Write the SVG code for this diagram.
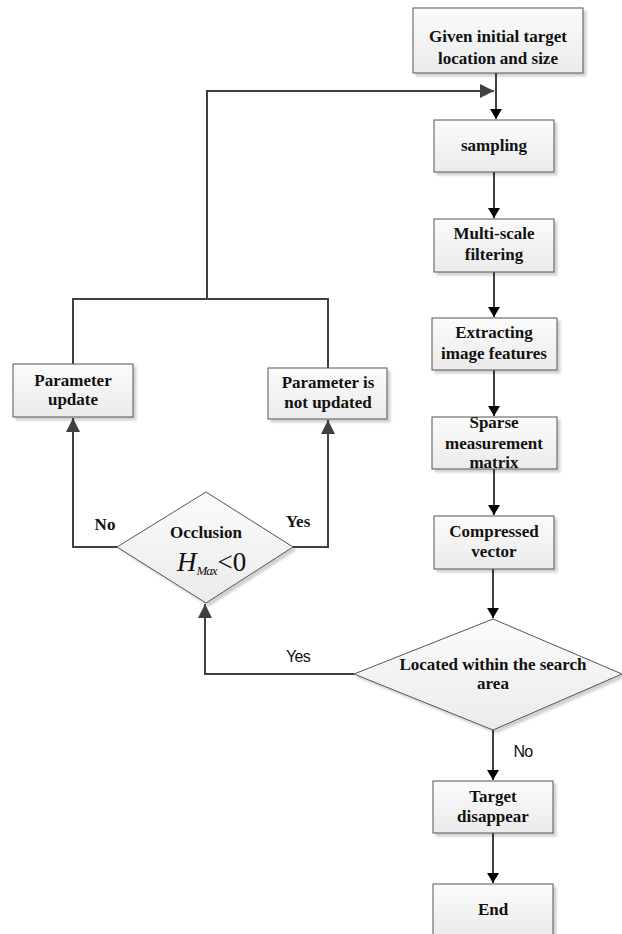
<svg xmlns="http://www.w3.org/2000/svg" width="622" height="934" viewBox="0 0 622 934">
<defs>
<linearGradient id="g" x1="0" y1="0" x2="0" y2="1">
<stop offset="0" stop-color="#fbfbfb"/>
<stop offset="1" stop-color="#ebebeb"/>
</linearGradient>
<filter id="sh" x="-10%" y="-10%" width="130%" height="130%">
<feDropShadow dx="3" dy="3" stdDeviation="1" flood-color="#000" flood-opacity="0.18"/>
</filter>
<marker id="ab" markerWidth="10" markerHeight="12" refX="10" refY="6" orient="auto" markerUnits="userSpaceOnUse">
<path d="M0,0 L10,6 L0,12 Z" fill="#000"/>
</marker>
<marker id="ag" markerWidth="14" markerHeight="14" refX="14" refY="7" orient="auto" markerUnits="userSpaceOnUse">
<path d="M0,0 L14,7 L0,14 Z" fill="#404040"/>
</marker>
</defs>
<style>
.box{fill:url(#g);stroke:#555;stroke-width:1;filter:url(#sh)}
.t{font-family:"Liberation Serif","Times New Roman",serif;font-weight:bold;font-size:17px;fill:#111;text-anchor:middle}
.s{font-family:"Liberation Sans",Arial,sans-serif;font-size:16px;fill:#111;text-anchor:middle;letter-spacing:-0.7px}
.cb{fill:none;stroke:#000;stroke-width:1.5}
.cg{fill:none;stroke:#404040;stroke-width:2}
</style>
<g id="connectors">
<path class="cb" d="M496,73 V119" marker-end="url(#ab)"/>
<path class="cg" d="M207,299 V91 H494" marker-end="url(#ag)"/>
<path class="cg" d="M73,364 V299 H328 V368"/>
<path class="cb" d="M494,172 V218" marker-end="url(#ab)"/>
<path class="cb" d="M494,272 V317" marker-end="url(#ab)"/>
<path class="cb" d="M494,370 V416" marker-end="url(#ab)"/>
<path class="cb" d="M494,469 V515" marker-end="url(#ab)"/>
<path class="cb" d="M493,569 V618" marker-end="url(#ab)"/>
<path class="cg" d="M354,674 H205 V604" marker-end="url(#ag)"/>
<path class="cg" d="M117,547 H73 V418" marker-end="url(#ag)"/>
<path class="cg" d="M293,547 H328 V420" marker-end="url(#ag)"/>
<path class="cb" d="M493,730 V780" marker-end="url(#ab)"/>
<path class="cb" d="M493,833 V883" marker-end="url(#ab)"/>
<text class="s" x="298" y="662">Yes</text>
<text class="s" x="523" y="757">No</text>
<text class="t" x="105" y="530">No</text>
<text class="t" x="298" y="527">Yes</text>
</g>
<g id="n1"><rect class="box" x="413" y="8" width="170" height="65"/>
<text class="t" x="498" y="42">Given initial target</text><text class="t" x="498" y="64">location and size</text></g>
<g id="n2"><rect class="box" x="434" y="120" width="120" height="52"/>
<text class="t" x="494" y="151">sampling</text></g>
<g id="n3"><rect class="box" x="434" y="219" width="120" height="53"/>
<text class="t" x="494" y="239">Multi-scale</text><text class="t" x="494" y="260">filtering</text></g>
<g id="n4"><rect class="box" x="432" y="318" width="125" height="52"/>
<text class="t" x="494" y="338">Extracting</text><text class="t" x="494" y="359">image features</text></g>
<g id="n5"><rect class="box" x="432" y="417" width="125" height="52"/>
<text class="t" x="494" y="428">Sparse</text><text class="t" x="494" y="449">measurement</text><text class="t" x="494" y="468">matrix</text></g>
<g id="n6"><rect class="box" x="434" y="516" width="120" height="53"/>
<text class="t" x="494" y="537">Compressed</text><text class="t" x="494" y="557">vector</text></g>
<g id="n7"><polygon class="box" points="493,619 622,674 493,730 354,674"/>
<text class="t" x="493" y="670">Located within the search</text><text class="t" x="493" y="689">area</text></g>
<g id="n8"><polygon class="box" points="206,492 293,547 206,603 117,547"/>
<text class="t" x="206" y="538">Occlusion</text>
<text x="177" y="571" font-family="Liberation Serif, serif" font-style="italic" font-size="27" fill="#111">H<tspan font-size="13" dy="4" letter-spacing="-1">Max</tspan><tspan font-style="normal" dy="-4" dx="1">&lt;0</tspan></text></g>
<g id="n9"><rect class="box" x="13" y="364" width="120" height="53"/>
<text class="t" x="73" y="386">Parameter</text><text class="t" x="73" y="405">update</text></g>
<g id="n10"><rect class="box" x="268" y="368" width="119" height="51"/>
<text class="t" x="328" y="388">Parameter is</text><text class="t" x="328" y="408">not updated</text></g>
<g id="n11"><rect class="box" x="433" y="781" width="120" height="52"/>
<text class="t" x="493" y="802">Target</text><text class="t" x="493" y="822">disappear</text></g>
<g id="n12"><rect class="box" x="433" y="884" width="120" height="52"/>
<text class="t" x="493" y="915">End</text></g>
</svg>
